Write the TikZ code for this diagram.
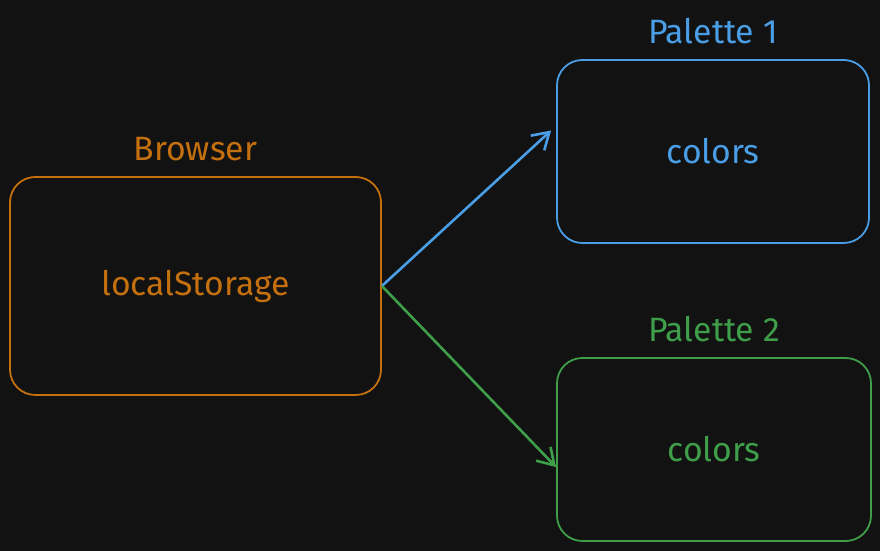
\documentclass[tikz,border=0pt]{standalone}
\usepackage{fontspec}
\setmainfont{Fira Sans}
\usetikzlibrary{positioning,arrows.meta}
\definecolor{bg}{HTML}{121212}
\definecolor{orangec}{HTML}{C4700E}
\definecolor{bluec}{HTML}{4A9EE6}
\definecolor{greenc}{HTML}{3E9E4A}
\tikzset{
  box/.style={draw, line width=0.45mm, rounded corners=18pt, inner sep=0pt},
  lbl/.style={font=\fontsize{24}{28}\selectfont},
  link/.style={draw, line width=0.65mm, -{Straight Barb[length=4mm,width=5mm]}}
}
\begin{document}
\begin{tikzpicture}[x=0.25mm,y=-0.25mm]
\fill[bg] (0,0) rectangle (880,551);
\useasboundingbox (0,0) rectangle (880,551);
\node[box, orangec, minimum width=92.75mm, minimum height=54.5mm, lbl] (store) at (195.5,286) {localStorage};
\node[box, bluec, minimum width=78mm, minimum height=45.75mm, lbl] (pal1) at (713,151.5) {colors};
\node[box, greenc, minimum width=78.5mm, minimum height=45.75mm, lbl] (pal2) at (714,449.5) {colors};

\node[orangec, lbl, above=2.5mm of store] (browser) {Browser};
\node[bluec, lbl, above=2.5mm of pal1] (pt1) {Palette 1};
\node[greenc, lbl, above=2.5mm of pal2] (pt2) {Palette 2};

\path[link, bluec] (store.east) -- ([yshift=5.25mm,xshift=-1.25mm]pal1.west);
\path[link, greenc] (store.east) -- ([yshift=-4.4mm]pal2.west);
\end{tikzpicture}
\end{document}
